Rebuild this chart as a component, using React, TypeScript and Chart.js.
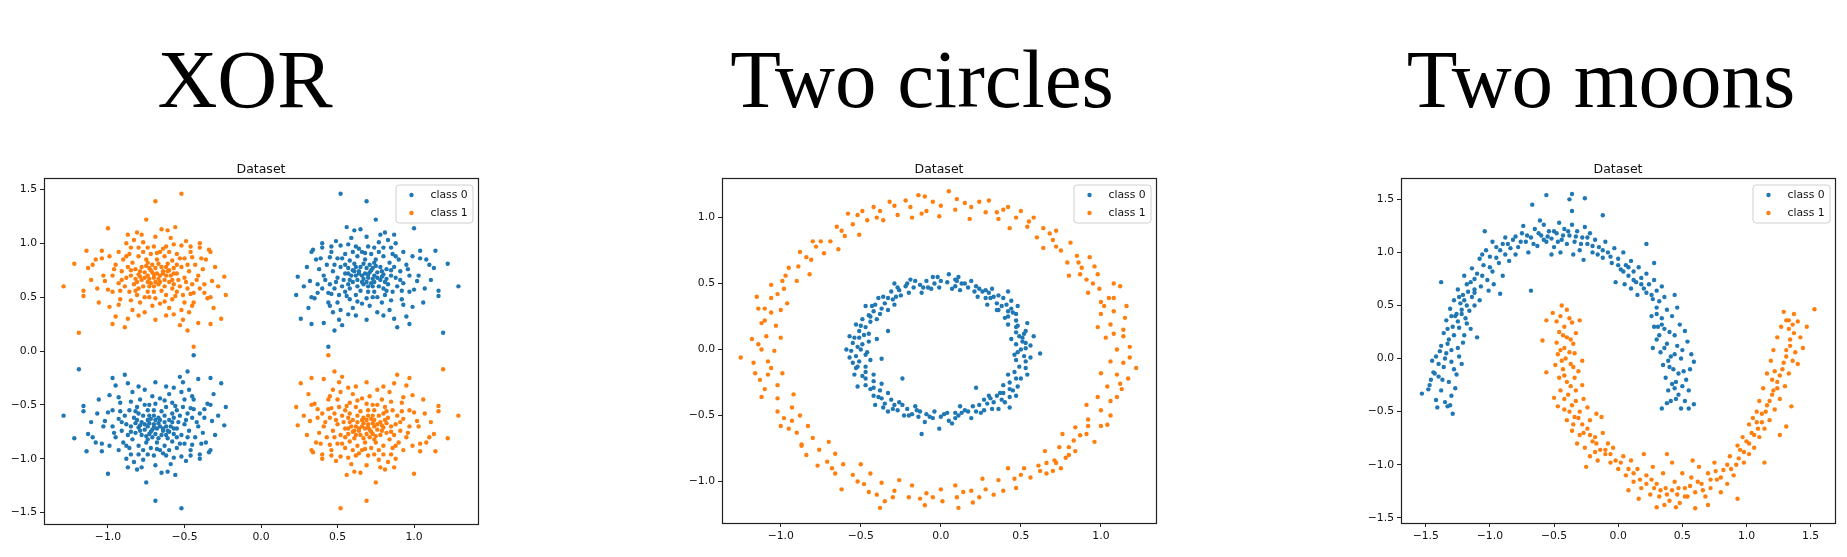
import React, { useEffect, useRef } from "react";
import { Chart, registerables } from "chart.js";
Chart.register(...registerables);

const BLUE = "#1f77b4";
const ORANGE = "#ff7f0e";
const LABELS = ["class 0", "class 1"];
const TITLES = ["XOR", "Two circles", "Two moons"];

// In the reference the four XOR clusters are exact mirror images of each other.
const XOR_CLUSTER = [
  0.52,1.46, 0.69,1.39, 0.75,1.22, 0.56,1.15, 0.65,1.13, 1.00,1.14, 0.81,1.10, 0.87,1.08, 0.69,1.06, 0.83,1.03,
  0.40,1.00, 0.49,1.02, 0.57,0.99, 0.64,0.95, 0.70,0.97, 0.77,1.01, 0.88,1.00, 0.85,0.96, 0.34,0.94, 0.33,0.92,
  0.40,0.96, 0.52,0.98, 1.14,0.93, 1.04,0.93, 1.22,0.81, 1.10,0.80, 1.13,0.77, 1.29,0.60, 1.16,0.56, 1.16,0.51,
  1.19,0.17, 0.24,0.69, 0.23,0.52, 0.26,0.30, 0.33,0.25, 0.33,0.50, 0.32,0.65, 0.35,0.49, 0.41,0.26, 0.44,0.04,
  0.51,0.29, 0.53,0.24, 0.69,0.29, 0.89,0.22, 0.95,0.32, 0.99,0.41, 1.00,0.57, 1.07,0.58, 1.03,0.70, 1.08,0.85,
  0.60,0.75, 0.62,0.70, 0.65,0.78, 0.68,0.72, 0.70,0.68, 0.72,0.75, 0.74,0.70, 0.76,0.73, 0.78,0.66, 0.80,0.71,
  0.66,0.64, 0.63,0.60, 0.58,0.66, 0.55,0.72, 0.52,0.78, 0.50,0.68, 0.47,0.74, 0.45,0.62, 0.43,0.80, 0.41,0.70,
  0.38,0.76, 0.40,0.58, 0.46,0.53, 0.50,0.45, 0.55,0.55, 0.58,0.48, 0.62,0.52, 0.66,0.44, 0.70,0.55, 0.73,0.60,
  0.76,0.50, 0.80,0.58, 0.83,0.62, 0.86,0.55, 0.88,0.68, 0.91,0.74, 0.93,0.63, 0.95,0.80, 0.90,0.85, 0.84,0.82,
  0.80,0.88, 0.75,0.85, 0.72,0.90, 0.68,0.85, 0.63,0.88, 0.58,0.84, 0.55,0.90, 0.50,0.86, 0.46,0.92, 0.60,0.92,
  0.78,0.78, 0.82,0.76, 0.71,0.80, 0.67,0.62, 0.57,0.62, 0.53,0.60, 0.48,0.58, 0.44,0.45, 0.52,0.38, 0.60,0.40,
  0.71,0.42, 0.79,0.45, 0.84,0.38, 0.92,0.48, 0.97,0.55, 1.02,0.65, 0.99,0.88, 0.93,0.92, 0.85,0.70, 0.74,0.64,
  0.64,0.72, 0.61,0.81, 0.57,0.77, 0.77,0.60, 0.81,0.52, 0.69,0.49, 0.37,0.62, 0.36,0.85, 0.30,0.78, 0.28,0.60,
  0.45,0.87, 0.97,0.70, 1.06,0.45, 0.87,0.30, 0.76,0.36, 0.62,0.33, 0.47,0.36,
  0.66,0.70, 0.71,0.73, 0.73,0.67, 0.69,0.77, 0.75,0.79, 0.63,0.66, 0.79,0.69, 0.67,0.81, 0.72,0.63, 0.61,0.74,
  0.59,0.70, 0.82,0.67, 0.70,0.60, 0.65,0.56, 0.54,0.66, 0.87,0.78, 0.77,0.92, 0.62,0.97, 0.48,0.80, 0.42,0.66,
  0.56,0.51, 0.74,0.55, 0.89,0.60, 0.93,0.43, 0.80,0.96, 0.68,0.91, 0.53,0.86, 0.44,0.54, 0.58,0.58, 0.85,0.47,
  0.64,0.74, 0.70,0.71, 0.76,0.68, 0.73,0.77, 0.67,0.67, 0.62,0.78, 0.79,0.74, 0.74,0.82, 0.69,0.64, 0.81,0.64,
  0.57,0.72, 0.60,0.64, 0.85,0.75, 0.88,0.88, 0.66,0.92, 0.55,0.80, 0.49,0.64, 0.51,0.52, 0.63,0.46, 0.73,0.50,
  0.82,0.56, 0.91,0.66, 0.96,0.76, 0.86,0.90, 0.74,0.96, 0.59,1.05, 0.46,0.97, 0.39,0.86, 0.37,0.54, 0.45,0.42,
  0.57,0.34, 0.80,0.33, 0.92,0.56, 1.11,0.66, 1.04,0.86, 0.78,1.08, 0.61,1.12, 0.31,0.40, 0.48,0.19, 0.97,0.25,
];

// Two circles: inner ring (class 0), x,y pairs
const CIRCLES_CLASS0 = [
  0.50,0.00, 0.56,0.03, 0.47,0.04, 0.53,0.05, 0.51,0.09, 0.44,0.08, 0.53,0.14, 0.47,0.13, 0.47,0.17, 0.54,0.20,
  0.42,0.19, 0.47,0.22, 0.47,0.27, 0.42,0.25, 0.42,0.29, 0.48,0.33, 0.36,0.30, 0.41,0.34, 0.35,0.35, 0.39,0.39,
  0.29,0.34, 0.33,0.40, 0.32,0.46, 0.28,0.39, 0.26,0.44, 0.23,0.40, 0.22,0.48, 0.21,0.44, 0.17,0.47, 0.19,0.52,
  0.12,0.45, 0.13,0.50, 0.09,0.53, 0.09,0.48, 0.04,0.51, 0.05,0.57, 0.36,0.41, 0.44,0.31, 0.30,0.43, 0.49,0.10,
  0.11,0.55, 0.58,0.10, 0.40,0.24, 0.42,0.44,
  0.00,0.52, -0.01,0.47, -0.05,0.55, -0.04,0.50, -0.08,0.47, -0.09,0.52, -0.13,0.49, -0.12,0.43, -0.19,0.53, -0.17,0.47,
  -0.20,0.43, -0.22,0.48, -0.26,0.45, -0.29,0.50, -0.28,0.40, -0.31,0.44, -0.29,0.34, -0.33,0.39, -0.39,0.39, -0.35,0.35,
  -0.37,0.31, -0.41,0.34, -0.42,0.29, -0.47,0.33, -0.40,0.23, -0.45,0.26, -0.49,0.23, -0.44,0.21, -0.47,0.17, -0.53,0.19,
  -0.45,0.12, -0.51,0.14, -0.51,0.09, -0.57,0.10, -0.49,0.04, -0.55,0.05, -0.45,0.06, -0.52,0.02, -0.48,0.11, -0.38,0.27,
  -0.25,0.41, -0.33,0.30, -0.33,0.14, -0.40,0.08,
  -0.50,0.00, -0.56,-0.01, -0.47,-0.04, -0.53,-0.05, -0.51,-0.09, -0.44,-0.08, -0.53,-0.14, -0.47,-0.13, -0.47,-0.17, -0.54,-0.19,
  -0.42,-0.19, -0.47,-0.22, -0.47,-0.27, -0.42,-0.24, -0.42,-0.29, -0.37,-0.26, -0.42,-0.35, -0.38,-0.31, -0.37,-0.37, -0.33,-0.33,
  -0.35,-0.41, -0.31,-0.38, -0.29,-0.42, -0.33,-0.47, -0.24,-0.42, -0.27,-0.46, -0.21,-0.45, -0.23,-0.50, -0.16,-0.43, -0.18,-0.49,
  -0.14,-0.51, -0.13,-0.47, -0.10,-0.55, -0.09,-0.49, -0.05,-0.52, -0.04,-0.47, -0.12,-0.64, -0.52,-0.28, -0.41,-0.42, -0.24,-0.22,
  -0.37,-0.07, -0.59,0.00, -0.55,-0.10,
  0.00,-0.51, -0.01,-0.60, 0.04,-0.48, 0.05,-0.54, 0.09,-0.52, 0.09,-0.48, 0.13,-0.48, 0.12,-0.43, 0.19,-0.52, 0.17,-0.47,
  0.20,-0.43, 0.22,-0.47, 0.27,-0.46, 0.24,-0.42, 0.29,-0.41, 0.32,-0.45, 0.30,-0.35, 0.33,-0.40, 0.38,-0.38, 0.35,-0.35,
  0.39,-0.33, 0.43,-0.36, 0.39,-0.27, 0.43,-0.30, 0.43,-0.25, 0.48,-0.28, 0.47,-0.22, 0.42,-0.19, 0.54,-0.19, 0.46,-0.17,
  0.49,-0.13, 0.53,-0.14, 0.47,-0.08, 0.53,-0.09, 0.52,-0.05, 0.46,-0.04, 0.62,-0.03, 0.43,-0.44, 0.36,-0.45, 0.22,-0.29,
  0.27,-0.38, 0.47,-0.35,
  0.51,0.06, 0.48,0.18, 0.45,0.28, 0.38,0.33, 0.31,0.39, 0.24,0.46, 0.15,0.50, 0.07,0.46, -0.02,0.55, -0.11,0.47,
  -0.21,0.50, -0.30,0.38, -0.36,0.40, -0.44,0.25, -0.50,0.18, -0.54,0.09, -0.46,-0.02, -0.57,-0.06, -0.49,-0.20, -0.44,-0.30,
  -0.39,-0.36, -0.30,-0.45, -0.20,-0.50, -0.15,-0.46, -0.07,-0.51, 0.02,-0.49, 0.07,-0.56, 0.15,-0.46, 0.25,-0.48, 0.31,-0.37,
  0.37,-0.33, 0.45,-0.31, 0.50,-0.22, 0.48,-0.02, 0.56,-0.06, 0.52,0.12, 0.44,0.37, 0.35,0.30, 0.28,0.45, 0.10,0.52,
  -0.06,0.46, -0.16,0.52, -0.27,0.47, -0.43,0.33, -0.52,-0.13, -0.36,-0.44, -0.26,-0.40, 0.11,-0.50, 0.40,-0.40, 0.53,0.01,
];

// Two circles: outer ring (class 1), x,y pairs
const CIRCLES_CLASS1 = [
  1.10,0.00, 1.18,0.02, 1.03,0.09, 1.14,0.10, 1.06,0.19, 0.98,0.17, 1.08,0.29, 1.00,0.27, 1.00,0.36, 1.08,0.39,
  0.92,0.43, 0.99,0.46, 0.98,0.57, 0.91,0.53, 0.88,0.62, 0.80,0.56, 0.85,0.71, 0.79,0.66, 0.75,0.75, 0.81,0.81,
  0.64,0.77, 0.70,0.83, 0.64,0.92, 0.60,0.85, 0.54,0.93, 0.58,1.00, 0.43,0.92, 0.47,1.00, 0.39,1.06, 0.36,0.99,
  0.28,1.04, 0.30,1.13, 0.18,0.99, 0.19,1.08, 0.10,1.14, 0.09,1.06, 1.05,0.39, 1.15,0.24, 0.93,0.70, 0.72,0.90,
  0.87,0.57, 0.50,1.05, 0.24,1.12, 0.05,1.20, 1.14,0.15, 0.96,0.63,
  0.00,1.09, -0.01,1.01, -0.10,1.16, -0.09,1.05, -0.19,1.08, -0.18,1.00, -0.29,1.09, -0.27,1.02, -0.36,0.98, -0.38,1.05,
  -0.46,0.98, -0.49,1.05, -0.51,0.87, -0.55,0.95, -0.65,0.93, -0.60,0.86, -0.69,0.82, -0.64,0.76, -0.78,0.78, -0.73,0.73,
  -0.81,0.68, -0.88,0.74, -0.82,0.57, -0.89,0.63, -0.97,0.56, -0.90,0.52, -0.98,0.46, -1.06,0.49, -0.96,0.35, -1.06,0.39,
  -1.06,0.28, -1.14,0.31, -1.03,0.18, -1.12,0.20, -1.09,0.10, -1.00,0.09, -0.14,1.17, -0.42,1.08, -0.75,0.82, -0.95,0.62,
  -1.15,0.40, -1.10,0.31, -1.18,0.08, -0.58,1.03, -0.32,1.12,
  -1.12,0.00, -1.04,-0.01, -1.17,-0.10, -1.08,-0.09, -0.99,-0.18, -1.08,-0.19, -1.10,-0.30, -1.02,-0.27, -1.02,-0.37, -0.92,-0.34,
  -1.02,-0.47, -0.93,-0.44, -0.93,-0.54, -1.00,-0.58, -0.83,-0.58, -0.90,-0.63, -0.87,-0.73, -0.80,-0.67, -0.76,-0.76, -0.70,-0.70,
  -0.71,-0.85, -0.66,-0.79, -0.61,-0.87, -0.66,-0.94, -0.50,-0.87, -0.55,-0.95, -0.48,-1.02, -0.44,-0.94, -0.37,-1.01, -0.40,-1.10,
  -0.26,-0.99, -0.29,-1.07, -0.20,-1.12, -0.18,-1.03, -0.09,-1.09, -0.10,-1.18, -1.25,-0.06, -1.13,-0.23, -0.98,-0.52, -0.62,-1.06,
  -0.35,-1.15, -0.13,-1.13, -0.77,-0.88, -0.87,-0.72, -0.38,-1.20,
  0.00,-1.06, 0.01,-1.15, 0.10,-1.12, 0.09,-1.03, 0.19,-1.07, 0.20,-1.16, 0.26,-0.98, 0.28,-1.06, 0.39,-1.07, 0.36,-0.99,
  0.46,-0.98, 0.42,-0.90, 0.56,-0.97, 0.52,-0.90, 0.61,-0.88, 0.66,-0.94, 0.65,-0.77, 0.71,-0.84, 0.80,-0.80, 0.74,-0.74,
  0.83,-0.69, 0.76,-0.64, 0.91,-0.64, 0.84,-0.59, 0.92,-0.53, 1.00,-0.58, 0.91,-0.42, 1.00,-0.46, 1.06,-0.39, 0.98,-0.36,
  1.04,-0.28, 1.13,-0.30, 1.00,-0.18, 1.10,-0.19, 1.14,-0.10, 1.06,-0.09, 1.22,-0.14, 0.72,-0.86, 0.75,-0.90, 0.78,-0.82,
  0.70,-0.92, 1.04,-0.57, 0.87,-0.65, 0.47,-1.05, 0.11,-1.20, 1.17,-0.22, 0.84,-0.77,
  1.08,0.12, 1.02,0.33, 0.95,0.50, 0.86,0.66, 0.68,0.88, 0.55,0.97, 0.35,1.04, 0.15,1.11, -0.05,1.12, -0.22,1.13,
  -0.40,1.00, -0.62,0.90, -0.84,0.70, -0.99,0.52, -1.02,0.42, -1.10,0.22, -1.14,0.04, -1.06,-0.14, -1.12,-0.36, -0.95,-0.60,
  -0.84,-0.80, -0.68,-0.90, -0.52,-1.00, -0.30,-1.12, -0.05,-1.12, 0.14,-1.08, 0.33,-1.10, 0.50,-0.95, 0.62,-0.92, 0.80,-0.74,
  0.92,-0.58, 1.06,-0.50, 1.10,-0.36, 1.18,-0.06, 1.16,0.33, 1.08,0.50, 0.72,0.78, 0.42,1.08, -0.12,1.03, -0.52,1.02,
  -0.80,0.82, -1.00,0.30, -1.16,-0.18, -0.88,-0.50, -0.45,-1.08, 0.24,-1.12, 0.66,-0.86, 0.96,-0.70, 1.12,-0.26, 1.12,0.48,
];

// Two moons: upper moon (class 0), x,y pairs
const MOONS_CLASS0 = [
  -1.53,-0.33, -1.47,-0.25, -1.42,-0.39, -1.29,-0.52, -1.35,-0.41, -1.44,-0.13, -1.40,-0.17, -1.38,-0.30, -1.32,-0.22, -1.45,-0.02,
  -1.36,-0.08, -1.30,-0.35, -1.27,-0.28, -1.33,-0.45, -1.41,-0.46, -1.48,-0.29, -1.26,-0.15, -1.34,0.05, -1.30,-0.03, -1.39,0.07,
  -1.24,0.02, -1.28,-0.10, -1.43,-0.14, -1.37,-0.20, -1.22,-0.05, -1.31,-0.44,
  -1.38,0.12, -1.32,0.18, -1.25,0.10, -1.36,0.24, -1.29,0.30, -1.20,0.22, -1.34,0.36, -1.26,0.42, -1.18,0.33, -1.31,0.47,
  -1.23,0.52, -1.16,0.45, -1.28,0.55, -1.21,0.60, -1.12,0.50, -1.38,0.72, -1.19,0.38, -1.24,0.29, -1.15,0.28, -1.30,0.08,
  -1.21,0.15, -1.10,0.20, -1.27,0.40, -1.22,0.46, -1.14,0.58, -1.08,0.55, -1.17,0.63, -1.25,0.65, -1.20,0.55,
  -1.15,0.72, -1.07,0.68, -1.20,0.78, -1.10,0.80, -1.02,0.74, -1.14,0.85, -1.05,0.88, -0.98,0.82, -1.08,0.94, -1.00,0.96,
  -0.93,0.90, -1.03,1.02, -0.95,1.05, -0.88,0.98, -1.04,1.20, -0.97,0.70, -0.92,0.61, -1.01,0.64, -0.90,0.78, -0.85,0.92,
  -0.98,1.10, -0.90,1.08, -0.84,1.04, -0.88,1.14, -1.12,0.65,
  -0.82,1.12, -0.78,1.05, -0.75,1.18, -0.72,1.10, -0.70,1.00, -0.68,1.14, -0.65,1.22, -0.63,1.06, -0.60,1.16, -0.58,1.26,
  -0.56,1.10, -0.54,1.20, -0.52,1.13, -0.50,1.05, -0.48,1.18, -0.46,1.28, -0.44,1.12, -0.42,1.22, -0.40,1.08, -0.38,1.16,
  -0.36,1.26, -0.34,1.10, -0.32,1.20, -0.30,1.02, -0.28,1.14, -0.26,1.24, -0.24,1.08, -0.22,1.18, -0.20,1.00, -0.67,1.45,
  -0.56,1.54, -0.36,1.55, -0.38,1.50, -0.26,1.51, -0.36,1.39, -0.12,1.35, -0.68,0.64, -0.80,0.98, -0.74,1.25, -0.61,1.30,
  -0.52,0.98, -0.45,1.00, -0.35,0.98, -0.27,0.93,
  -0.18,1.12, -0.15,1.05, -0.12,0.95, -0.10,1.10, -0.08,1.00, -0.05,0.90, -0.03,1.04, 0.00,0.94, 0.02,0.84, 0.04,1.00,
  0.06,0.88, 0.08,0.78, 0.10,0.92, 0.12,0.82, 0.14,0.72, 0.16,0.86, 0.18,0.76, 0.20,0.66, 0.22,1.08, 0.22,0.80,
  0.24,0.70, 0.26,0.60, 0.28,0.74, 0.30,0.64, 0.32,0.54, 0.28,0.90, -0.02,0.72, 0.05,0.70, 0.10,0.66, 0.15,0.60,
  0.34,0.68, 0.36,0.58, 0.44,0.60, 0.30,0.48, 0.38,0.46, 0.26,0.40, 0.34,0.38, 0.42,0.40, 0.48,0.32, 0.28,0.30,
  0.36,0.28, 0.44,0.22, 0.52,0.26, 0.30,0.18, 0.38,0.14, 0.46,0.12, 0.54,0.16, 0.33,0.06, 0.41,0.02, 0.49,0.00,
  0.57,0.04, 0.35,-0.06, 0.43,-0.10, 0.51,-0.12, 0.59,-0.03, 0.37,-0.18, 0.45,-0.22, 0.53,-0.20, 0.39,-0.30, 0.47,-0.34,
  0.55,-0.30, 0.41,-0.40, 0.49,-0.47, 0.55,-0.47, 0.59,-0.43, 0.34,-0.47, 0.44,-0.28, 0.40,-0.08, 0.32,0.22, 0.27,0.10,
  0.46,0.48, 0.50,0.08,
  -1.46,-0.20, -1.40,-0.05, -1.35,0.00, -1.42,0.02, -1.33,0.14, -1.28,0.22, -1.33,0.28, -1.25,0.35, -1.30,0.40, -1.22,0.42,
  -1.18,0.50, -1.24,0.58, -1.12,0.62, -1.18,0.70, -1.06,0.78, -1.12,0.75, -1.00,0.86, -1.06,0.98, -0.95,0.95, -0.92,1.02,
  -0.86,1.08, -0.80,1.15, -0.76,1.10, -0.71,1.16, -0.66,1.08, -0.62,1.18, -0.58,1.12, -0.55,1.15, -0.50,1.20, -0.47,1.10,
  -0.43,1.16, -0.39,1.20, -0.33,1.15, -0.29,1.08, -0.24,1.14, -0.20,1.06, -0.16,0.98, -0.12,1.02, -0.06,0.96, 0.00,0.88,
  0.04,0.82, 0.08,0.86, 0.12,0.74, 0.18,0.70, 0.22,0.62, 0.27,0.56, 0.30,0.42, 0.34,0.32, 0.40,0.25, 0.36,0.10,
  0.44,0.04, 0.39,-0.02, 0.47,-0.14, 0.42,-0.24, 0.50,-0.26, 0.45,-0.38, 0.52,-0.40, 0.38,-0.42, 0.56,-0.10, 0.31,0.30,
];

// Two moons: lower moon (class 1), x,y pairs
const MOONS_CLASS1 = [
  -0.44,0.50, -0.40,0.46, -0.51,0.43, -0.56,0.36, -0.59,0.17, -0.56,-0.13, -0.48,0.35, -0.42,0.30, -0.36,0.34, -0.46,0.25,
  -0.40,0.20, -0.33,0.24, -0.48,0.15, -0.42,0.10, -0.35,0.14, -0.30,0.36, -0.47,0.04, -0.41,0.00, -0.34,0.05, -0.28,-0.02,
  -0.49,-0.06, -0.43,-0.10, -0.37,-0.05, -0.31,-0.12, -0.46,-0.18, -0.40,-0.22, -0.34,-0.18, -0.28,-0.25, -0.45,-0.30, -0.39,-0.34,
  -0.33,-0.30, -0.27,-0.38, -0.47,-0.45, -0.50,-0.37,
  -0.42,-0.48, -0.36,-0.44, -0.30,-0.50, -0.24,-0.46, -0.40,-0.58, -0.34,-0.55, -0.28,-0.62, -0.22,-0.58, -0.17,-0.52, -0.36,-0.68,
  -0.30,-0.72, -0.24,-0.66, -0.18,-0.74, -0.12,-0.70, -0.32,-0.80, -0.26,-0.84, -0.20,-0.78, -0.14,-0.86, -0.08,-0.80, -0.22,-0.92,
  -0.16,-0.96, -0.10,-0.90, -0.04,-0.84, -0.25,-1.02, -0.13,-0.55, -0.18,-0.88,
  -0.06,-0.98, 0.00,-1.04, 0.04,-0.92, 0.06,-1.10, 0.10,-0.96, 0.12,-1.16, 0.15,-1.04, 0.18,-1.22, 0.20,-0.90, 0.22,-1.10,
  0.25,-1.28, 0.27,-1.02, 0.30,-1.18, 0.30,-1.40, 0.32,-1.30, 0.35,-1.08, 0.37,-1.22, 0.40,-1.34, 0.42,-0.98, 0.44,-1.16,
  0.46,-1.28, 0.48,-1.36, 0.50,-1.08, 0.52,-1.22, 0.54,-1.30, 0.57,-1.12, 0.60,-1.41, 0.60,-1.26, 0.63,-1.02, 0.65,-1.18,
  0.68,-1.30, 0.70,-1.08, 0.72,-1.22, 0.75,-0.98, 0.77,-1.14, 0.80,-1.26, 0.82,-1.05, 0.85,-1.18, 0.87,-0.92, 0.90,-1.10,
  0.93,-1.32, 0.92,-1.00, 0.38,-0.90, 0.08,-1.24, 0.16,-1.32, 0.58,-0.96, 0.36,-1.38, 0.45,-1.40, 0.26,-1.14, 0.70,-1.38,
  0.95,-0.86, 0.98,-0.98, 1.00,-0.78, 1.02,-0.90, 1.04,-0.70, 1.06,-0.84, 0.93,-0.82, 1.08,-0.60, 1.10,-0.74, 1.12,-0.52,
  1.14,-0.98, 1.05,-0.56, 1.14,-0.66, 1.16,-0.44, 1.18,-0.58, 1.10,-0.40, 1.20,-0.34, 1.22,-0.48, 1.13,-0.28, 1.24,-0.22,
  1.26,-0.38, 1.16,-0.14, 1.28,-0.10, 1.30,-0.26, 1.19,-0.02, 1.31,0.02, 1.33,-0.14, 1.21,0.08, 1.34,0.12, 1.36,-0.02,
  1.24,0.20, 1.37,0.24, 1.38,0.06, 1.27,0.30, 1.29,0.44, 1.37,0.42, 1.53,0.465, 1.47,0.30, 1.42,0.20, 1.40,0.35,
  1.31,-0.64, 1.26,-0.72, 1.02,-0.62, 1.35,-0.45, 1.40,-0.05, 1.44,0.10, 1.33,0.36, 1.22,-0.12,
  -0.45,0.40, -0.38,0.38, -0.43,0.22, -0.37,0.18, -0.45,0.08, -0.38,0.06, -0.44,-0.02, -0.35,-0.08, -0.42,-0.16, -0.37,-0.26,
  -0.42,-0.38, -0.33,-0.40, -0.38,-0.50, -0.31,-0.56, -0.35,-0.62, -0.27,-0.70, -0.22,-0.72, -0.17,-0.80, -0.10,-0.86, -0.06,-0.90,
  -0.02,-0.96, 0.02,-0.98, 0.08,-1.04, 0.12,-1.08, 0.17,-1.14, 0.22,-1.18, 0.28,-1.22, 0.33,-1.24, 0.38,-1.28, 0.42,-1.24,
  0.47,-1.22, 0.52,-1.30, 0.56,-1.20, 0.62,-1.16, 0.66,-1.24, 0.72,-1.14, 0.76,-1.06, 0.80,-1.12, 0.85,-1.00, 0.88,-1.04,
  0.94,-0.94, 0.98,-0.88, 1.02,-0.80, 1.06,-0.72, 1.09,-0.66, 1.12,-0.60, 1.15,-0.50, 1.18,-0.40, 1.21,-0.30, 1.24,-0.28,
  1.26,-0.16, 1.29,-0.04, 1.31,0.08, 1.34,0.18, 1.33,0.28, 1.31,0.36, 1.36,0.32, 1.20,-0.20, 1.08,-0.50, 0.97,-0.74,
];

// Tick values
const XOR_X_TICKS = [-1.0, -0.5, 0.0, 0.5, 1.0];
const XOR_Y_TICKS = [-1.5, -1.0, -0.5, 0.0, 0.5, 1.0, 1.5];
const CIRCLES_X_TICKS = [-1.0, -0.5, 0.0, 0.5, 1.0];
const CIRCLES_Y_TICKS = [-1.0, -0.5, 0.0, 0.5, 1.0];
const MOONS_X_TICKS = [-1.5, -1.0, -0.5, 0.0, 0.5, 1.0, 1.5];
const MOONS_Y_TICKS = [-1.5, -1.0, -0.5, 0.0, 0.5, 1.0, 1.5];

type Pt = { x: number; y: number };
const toPoints = (flat: number[]): Pt[] => {
  const out: Pt[] = [];
  for (let i = 0; i + 1 < flat.length; i += 2) out.push({ x: flat[i], y: flat[i + 1] });
  return out;
};

const xorBase = toPoints(XOR_CLUSTER);
const XOR_CLASS0 = [...xorBase, ...xorBase.map((p) => ({ x: -p.x, y: -p.y }))];
const XOR_CLASS1 = [...xorBase.map((p) => ({ x: -p.x, y: p.y })), ...xorBase.map((p) => ({ x: p.x, y: -p.y }))];

const fmt = (v: number) => {
  const s = Math.abs(v).toFixed(1);
  return v < -1e-9 ? "\u2212" + s : s;
};

const CANVAS_TOP = 140;
const PAGE_H = 557;
const RIGHT_W = 10;
const DOT_R = 2.2;
const TICK_FONT = { family: "'DejaVu Sans', sans-serif", size: 10.8 };

const framePlugin = {
  id: "framePlugin",
  afterDatasetsDraw(chart: any) {
    const { ctx, chartArea } = chart;
    const { left, top, right, bottom } = chartArea;
    ctx.save();
    // legend box
    const w = 77, h = 38;
    const lx = right - 5 - w, ly = top + 7;
    ctx.beginPath();
    const r = 3;
    ctx.moveTo(lx + r, ly);
    ctx.lineTo(lx + w - r, ly);
    ctx.quadraticCurveTo(lx + w, ly, lx + w, ly + r);
    ctx.lineTo(lx + w, ly + h - r);
    ctx.quadraticCurveTo(lx + w, ly + h, lx + w - r, ly + h);
    ctx.lineTo(lx + r, ly + h);
    ctx.quadraticCurveTo(lx, ly + h, lx, ly + h - r);
    ctx.lineTo(lx, ly + r);
    ctx.quadraticCurveTo(lx, ly, lx + r, ly);
    ctx.closePath();
    ctx.fillStyle = "rgba(255,255,255,0.8)";
    ctx.fill();
    ctx.strokeStyle = "#d0d0d0";
    ctx.lineWidth = 1;
    ctx.stroke();
    ctx.font = "10.8px 'DejaVu Sans', sans-serif";
    ctx.textBaseline = "middle";
    ctx.textAlign = "left";
    chart.data.datasets.forEach((ds: any, i: number) => {
      const cy = ly + 10 + 18 * i;
      ctx.beginPath();
      ctx.arc(lx + 15.5, cy, DOT_R, 0, Math.PI * 2);
      ctx.fillStyle = ds.backgroundColor;
      ctx.fill();
      ctx.fillStyle = "#111";
      ctx.fillText(ds.label, lx + 34.5, cy + 0.5);
    });
    // frame (all four spines)
    ctx.strokeStyle = "#222";
    ctx.lineWidth = 1.2;
    ctx.strokeRect(Math.round(left) + 0.5, Math.round(top) + 0.5, Math.round(right - left), Math.round(bottom - top));
    // small title
    ctx.fillStyle = "#111";
    ctx.font = "12.5px 'DejaVu Sans', sans-serif";
    ctx.textAlign = "center";
    ctx.textBaseline = "alphabetic";
    ctx.fillText("Dataset", (left + right) / 2, top - 5.5);
    ctx.restore();
  },
};

type PanelProps = {
  boxL: number; boxT: number; boxR: number; boxB: number; leftW: number;
  xMin: number; xMax: number; yMin: number; yMax: number;
  xTicks: number[]; yTicks: number[];
  class0: Pt[]; class1: Pt[];
};

function Panel(p: PanelProps) {
  const ref = useRef<HTMLCanvasElement | null>(null);
  const width = p.boxR - p.boxL + p.leftW + RIGHT_W;
  const height = PAGE_H - CANVAS_TOP;
  useEffect(() => {
    if (!ref.current) return;
    const chart = new Chart(ref.current, {
      type: "scatter",
      data: {
        datasets: [
          { label: LABELS[0], data: p.class0, backgroundColor: BLUE, borderWidth: 0, pointRadius: DOT_R, pointHoverRadius: DOT_R },
          { label: LABELS[1], data: p.class1, backgroundColor: ORANGE, borderWidth: 0, pointRadius: DOT_R, pointHoverRadius: DOT_R },
        ],
      },
      options: {
        animation: false,
        responsive: false,
        maintainAspectRatio: false,
        events: [],
        layout: { padding: { top: p.boxT - CANVAS_TOP, right: RIGHT_W, left: 0, bottom: 0 } },
        plugins: { legend: { display: false }, tooltip: { enabled: false }, title: { display: false } },
        scales: {
          x: {
            type: "linear",
            position: "bottom",
            min: p.xMin,
            max: p.xMax,
            afterFit: (s: any) => { s.height = PAGE_H - p.boxB; },
            afterBuildTicks: (s: any) => { s.ticks = p.xTicks.map((v) => ({ value: v })); },
            ticks: { callback: (v: any) => fmt(Number(v)), font: TICK_FONT, color: "#111", padding: 3, autoSkip: false, maxRotation: 0 },
            grid: { drawOnChartArea: false, drawTicks: true, tickLength: 4, tickColor: "#222", tickWidth: 1 },
            border: { display: false },
          },
          y: {
            type: "linear",
            position: "left",
            min: p.yMin,
            max: p.yMax,
            afterFit: (s: any) => { s.width = p.leftW; },
            afterBuildTicks: (s: any) => { s.ticks = p.yTicks.map((v) => ({ value: v })); },
            ticks: { callback: (v: any) => fmt(Number(v)), font: TICK_FONT, color: "#111", padding: 3, autoSkip: false },
            grid: { drawOnChartArea: false, drawTicks: true, tickLength: 4, tickColor: "#222", tickWidth: 1 },
            border: { display: false },
          },
        },
      } as any,
      plugins: [framePlugin],
    });
    return () => chart.destroy();
  }, []);
  return (
    <canvas
      ref={ref}
      width={width}
      height={height}
      style={{ position: "absolute", left: p.boxL - p.leftW, top: CANVAS_TOP, width, height }}
    />
  );
}

const titleStyle = (center: number): React.CSSProperties => ({
  position: "absolute",
  left: center - 300,
  width: 600,
  top: 37.5,
  textAlign: "center",
  fontFamily: "'Liberation Serif', 'Times New Roman', serif",
  fontSize: 83,
  lineHeight: "83px",
  color: "#000",
  whiteSpace: "nowrap",
});

export default function App() {
  return (
    <div style={{ position: "absolute", left: 0, top: 0, width: 1847, height: 557, background: "#fff", overflow: "hidden" }}>
      <div style={titleStyle(245)}>{TITLES[0]}</div>
      <div style={titleStyle(922)}>{TITLES[1]}</div>
      <div style={titleStyle(1601)}>{TITLES[2]}</div>
      <Panel boxL={44} boxT={178} boxR={478} boxB={524} leftW={44}
        xMin={-1.418} xMax={1.418} yMin={-1.606} yMax={1.606}
        xTicks={XOR_X_TICKS} yTicks={XOR_Y_TICKS} class0={XOR_CLASS0} class1={XOR_CLASS1} />
      <Panel boxL={722} boxT={178} boxR={1156} boxB={523} leftW={60}
        xMin={-1.367} xMax={1.344} yMin={-1.315} yMax={1.30}
        xTicks={CIRCLES_X_TICKS} yTicks={CIRCLES_Y_TICKS} class0={toPoints(CIRCLES_CLASS0)} class1={toPoints(CIRCLES_CLASS1)} />
      <Panel boxL={1401} boxT={178} boxR={1835} boxB={523} leftW={60}
        xMin={-1.693} xMax={1.690} yMin={-1.549} yMax={1.701}
        xTicks={MOONS_X_TICKS} yTicks={MOONS_Y_TICKS} class0={toPoints(MOONS_CLASS0)} class1={toPoints(MOONS_CLASS1)} />
    </div>
  );
}
